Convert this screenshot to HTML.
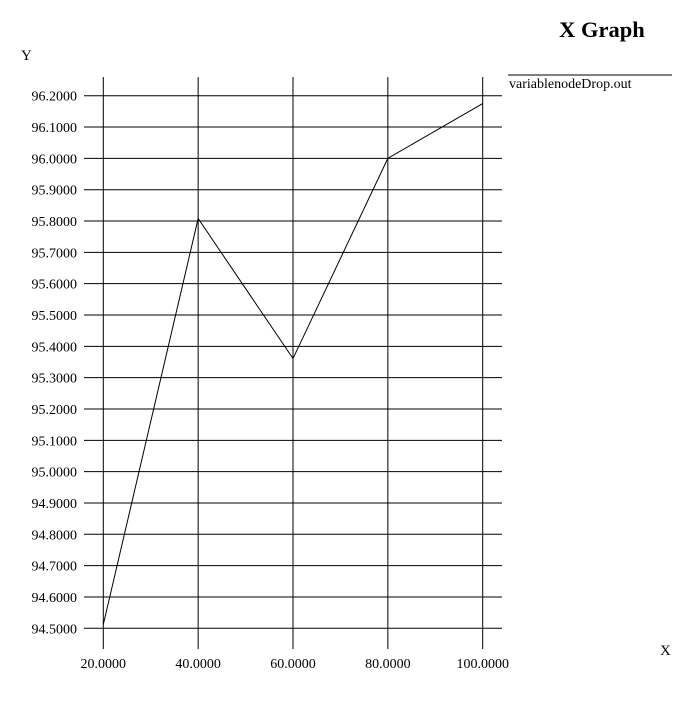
<!DOCTYPE html>
<html><head><meta charset="utf-8"><style>
html,body{margin:0;padding:0;background:#fff;}
svg{display:block;font-family:"Liberation Serif",serif;}
</style></head><body>
<svg id="chart" width="695" height="710" viewBox="0 0 695 710" xmlns="http://www.w3.org/2000/svg">
<text x="602" y="37" text-anchor="middle" font-size="22.5" font-weight="bold">X Graph</text>
<text x="21" y="60" font-size="15">Y</text>
<text x="660" y="655" font-size="15">X</text>
<line x1="508" y1="75" x2="672" y2="75" stroke="#000" stroke-width="1"/>
<text x="509" y="88" font-size="14">variablenodeDrop.out</text>
<g id="grid"></g>
<g id="marks"></g>
</svg>
<script>
const xTicks = [20, 40, 60, 80, 100];
const yTicks = [94.5,94.6,94.7,94.8,94.9,95.0,95.1,95.2,95.3,95.4,95.5,95.6,95.7,95.8,95.9,96.0,96.1,96.2];
const seriesX = [20, 40, 60, 80, 100];
const seriesY = [94.512, 95.808, 95.361, 96.0, 96.175];

const NS = "http://www.w3.org/2000/svg";
function xs(v){ return 103.3 + (v - 20) * (482.7 - 103.3) / 80; }
function ys(v){ return 628.3 - (v - 94.5) * (628.3 - 95.7) / 1.7; }
const grid = document.getElementById('grid');
const marks = document.getElementById('marks');
function mk(tag, attrs, parent){ const e = document.createElementNS(NS, tag); for (const k in attrs) e.setAttribute(k, attrs[k]); parent.appendChild(e); return e; }

yTicks.forEach(v => {
  const y = ys(v);
  const l = mk('line', {x1:84, x2:502, y1:y, y2:y, stroke:'#000', 'stroke-width':1}, grid);
  
  
  const t = mk('text', {x:77, y:y + 5, 'text-anchor':'end', 'font-size':14}, grid);
  t.textContent = v.toFixed(4);
  
  
});
xTicks.forEach(v => {
  const x = xs(v);
  const l = mk('line', {x1:x, x2:x, y1:77, y2:649, stroke:'#000', 'stroke-width':1}, grid);
  
  
  const t = mk('text', {x:x, y:668, 'text-anchor':'middle', 'font-size':14}, grid);
  t.textContent = v.toFixed(4);
  
  
});
const pts = seriesX.map((x, i) => xs(x) + ',' + ys(seriesY[i])).join(' ');
const pl = mk('polyline', {points:pts, fill:'none', stroke:'#000', 'stroke-width':1}, marks);


</script>
</body></html>
